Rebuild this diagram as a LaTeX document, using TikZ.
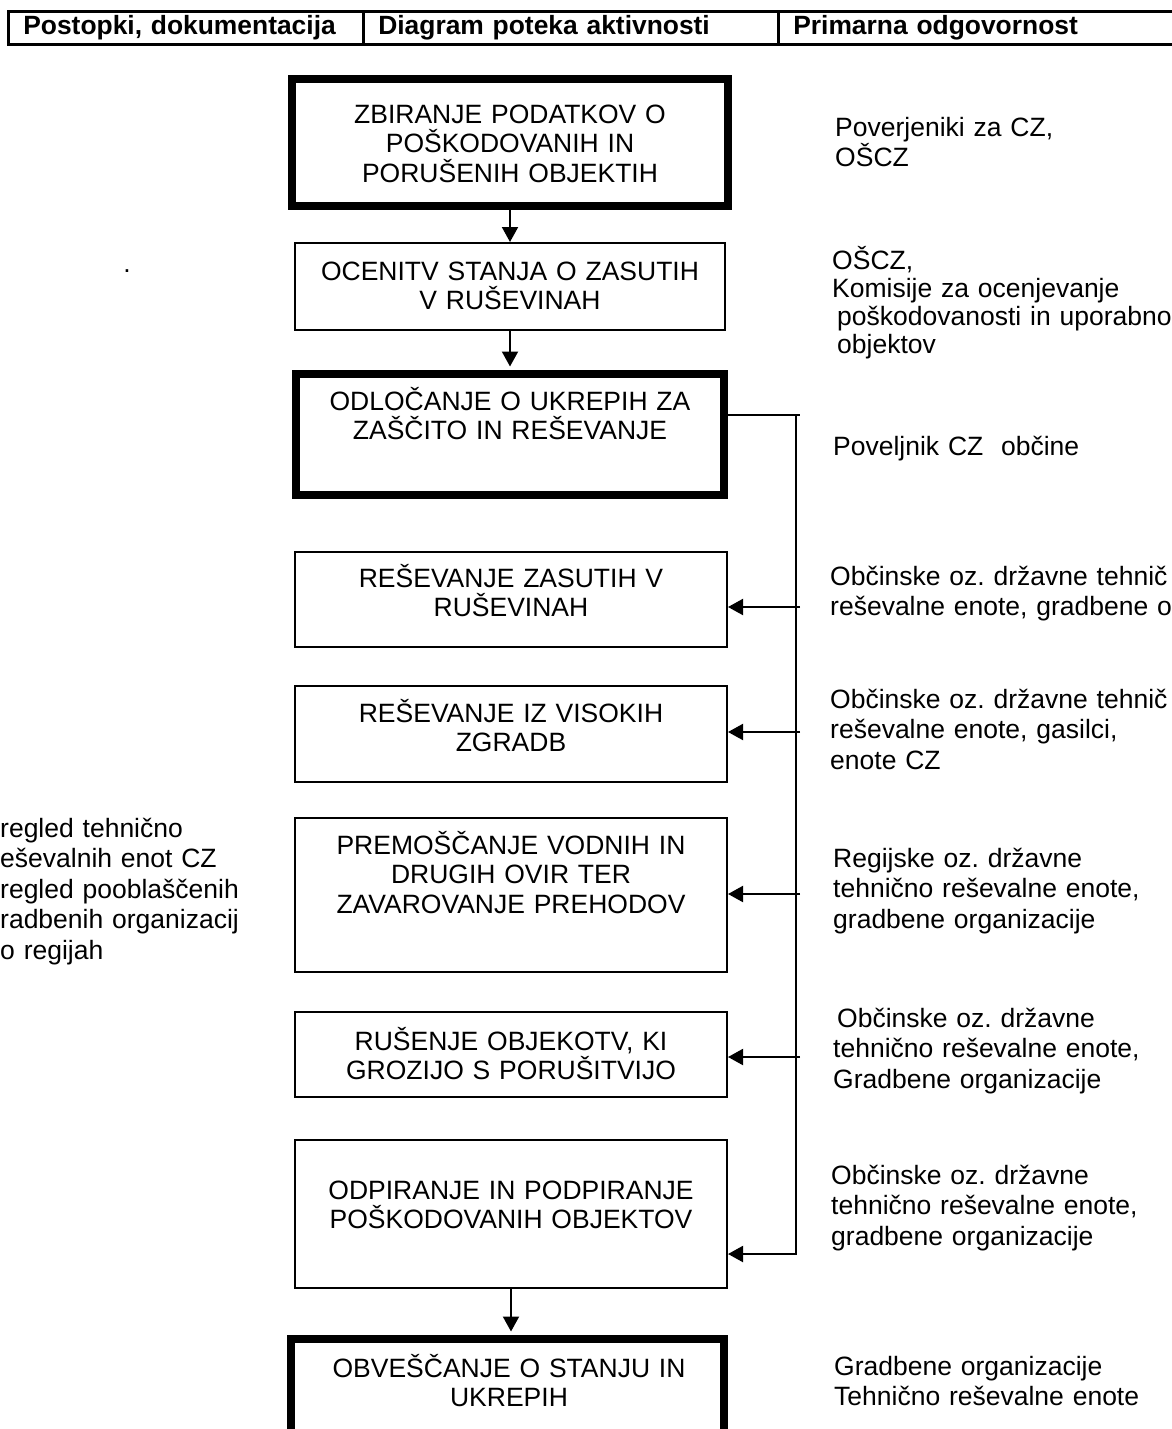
\documentclass[tikz,border=0pt]{standalone}
\usepackage{fontspec}
\setmainfont{Liberation Sans}
\usetikzlibrary{arrows.meta}
\frenchspacing

\newcommand*{\busx}{796}
\newcommand*{\tapx}{800}

\begin{document}
\begin{tikzpicture}
[
	x=1pt,
	y=-1pt,
	hdrcell/.style={draw,line width=2.6pt,minimum height=33pt,inner xsep=15pt,inner ysep=0pt,align=left,anchor=north west,font=\fontsize{26.4}{30}\selectfont\bfseries},
	thinbox/.style={draw,line width=2pt,inner sep=0pt},
	thickbox/.style={draw,line width=8pt,inner sep=0pt},
	boxtext/.style={inner sep=0pt,text width=420pt,align=center,anchor=base,font=\fontsize{26.5}{29.5}\selectfont},
	resptext/.style={inner sep=0pt,text width=345pt,align=left,anchor=base west,font=\fontsize{26.5}{30.5}\selectfont},
	flow/.style={line width=2pt,-{Triangle[length=15pt,width=16pt]}},
	bus/.style={line width=2pt}
]

	\useasboundingbox (0,0) rectangle (1172,1429);
	\clip (0,0) rectangle (1172,1429);

	% header row
	\node[hdrcell,text width=325pt] (hdrA) at (7,10) {Postopki, dokumentacija};
	\node[hdrcell,text width=385pt] (hdrB) at (362,10) {Diagram poteka aktivnosti};
	\node[hdrcell,text width=393pt] (hdrC) at (777,10) {Primarna odgovornost};

	% activity boxes
	\node[thickbox,minimum width=436pt,minimum height=127pt] (b1) at (510,142.5) {};
	\node[boxtext] (t1) at (510,123) {ZBIRANJE PODATKOV O\\POŠKODOVANIH IN\\PORUŠENIH OBJEKTIH};
	\node[thinbox,minimum width=430pt,minimum height=87pt] (b2) at (510,286.5) {};
	\node[boxtext] (t2) at (510,280) {OCENITV STANJA O ZASUTIH\\V RUŠEVINAH};
	\node[thickbox,minimum width=428pt,minimum height=121pt] (b3) at (510,434.5) {};
	\node[boxtext] (t3) at (510,410) {ODLOČANJE O UKREPIH ZA\\ZAŠČITO IN REŠEVANJE};
	\node[thinbox,minimum width=432pt,minimum height=95pt] (b4) at (511,599.5) {};
	\node[boxtext] (t4) at (511,587) {REŠEVANJE ZASUTIH V\\RUŠEVINAH};
	\node[thinbox,minimum width=432pt,minimum height=96pt] (b5) at (511,734) {};
	\node[boxtext] (t5) at (511,722) {REŠEVANJE IZ VISOKIH\\ZGRADB};
	\node[thinbox,minimum width=432pt,minimum height=154pt] (b6) at (511,895) {};
	\node[boxtext] (t6) at (511,854) {PREMOŠČANJE VODNIH IN\\DRUGIH OVIR TER\\ZAVAROVANJE PREHODOV};
	\node[thinbox,minimum width=432pt,minimum height=85pt] (b7) at (511,1054.5) {};
	\node[boxtext] (t7) at (511,1050) {RUŠENJE OBJEKOTV, KI\\GROZIJO S PORUŠITVIJO};
	\node[thinbox,minimum width=432pt,minimum height=148pt] (b8) at (511,1214) {};
	\node[boxtext] (t8) at (511,1199) {ODPIRANJE IN PODPIRANJE\\POŠKODOVANIH OBJEKTOV};
	\node[thickbox,minimum width=433pt,minimum height=141pt] (b9) at (507.5,1409.5) {};
	\node[boxtext] (t9) at (509,1377) {OBVEŠČANJE O STANJU IN\\UKREPIH};

	% main flow
	\draw[flow] (b1.south) -- (b1.south |- b2.north);
	\draw[flow,shorten >=3.5pt] (b2.south) -- (b2.south |- b3.north);
	\draw[flow,shorten >=3.5pt] (b8.south) -- (b8.south |- b9.north);

	% bus to the measures
	\coordinate (busTop) at (\tapx,415);
	\coordinate (busBot) at (\busx,1254);
	\draw[bus] (b3.east |- busTop) -- (busTop);
	\coordinate (tap4) at (\tapx,607);
	\coordinate (tap5) at (\tapx,732);
	\coordinate (tap6) at (\tapx,894);
	\coordinate (tap7) at (\tapx,1057);
	\draw[flow] (tap4) -- (tap4 -| b4.east);
	\draw[flow] (tap5) -- (tap5 -| b5.east);
	\draw[flow] (tap6) -- (tap6 -| b6.east);
	\draw[flow] (tap7) -- (tap7 -| b7.east);
	\draw[flow] (busTop -| busBot) -- (busBot) -- (busBot -| b8.east);

	% responsibilities
	\node[resptext] (r1) at (835,136) {Poverjeniki za CZ,\\OŠCZ};
	\node[resptext,font=\fontsize{26.5}{28}\selectfont] (r2) at (832,269) {OŠCZ,\\Komisije za ocenjevanje\\\hspace*{5pt}poškodovanosti in uporabno\\\hspace*{5pt}objektov};
	\node[resptext] (r3) at (833,455) {Poveljnik CZ\ \ občine};
	\node[resptext] (r4) at (830,585) {Občinske oz. državne tehnič\\reševalne enote, gradbene o};
	\node[resptext] (r5) at (830,708) {Občinske oz. državne tehnič\\reševalne enote, gasilci,\\enote CZ};
	\node[resptext] (r6) at (833,867) {Regijske oz. državne\\tehnično reševalne enote,\\gradbene organizacije};
	\node[resptext] (r7) at (833,1027) {\hspace*{4pt}Občinske oz. državne\\tehnično reševalne enote,\\Gradbene organizacije};
	\node[resptext] (r8) at (831,1184) {Občinske oz. državne\\tehnično reševalne enote,\\gradbene organizacije};
	\node[resptext] (r9) at (834,1375) {Gradbene organizacije\\Tehnično reševalne enote};

	% documentation
	\node[resptext] (docs) at (0,837) {regled tehnično\\eševalnih enot CZ\\regled pooblaščenih\\radbenih organizacij\\o regijah};
	\node[inner sep=0pt,font=\fontsize{26.5}{30}\selectfont] (dot) at (127,271) {.};

\end{tikzpicture}
\end{document}
